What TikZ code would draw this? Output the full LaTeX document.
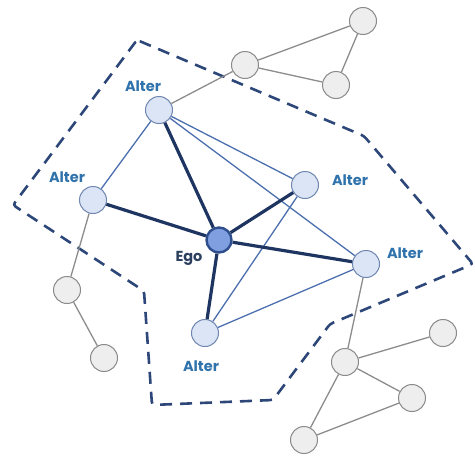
\documentclass[tikz,border=0pt]{standalone}
\usepackage{fontspec}
\setmainfont{Poppins}
\begin{document}
\begin{tikzpicture}[x=1pt,y=-1pt,
  alter/.style={circle,draw=alterline,fill=alterfill,line width=1pt,minimum size=27pt,inner sep=0pt},
  egonode/.style={circle,draw=egoline,fill=egofill,line width=2.4pt,minimum size=25pt,inner sep=0pt},
  other/.style={circle,draw=otherline,fill=otherfill,line width=1pt,minimum size=27pt,inner sep=0pt},
  strong/.style={draw=strongtie,line width=3.2pt},
  weak/.style={draw=weaktie,line width=1.3pt},
  outer/.style={draw=outertie,line width=1.3pt},
  lbl/.style={text=labelblue,font=\bfseries\fontsize{14.5}{14.5}\selectfont,inner sep=0pt},
  boundary/.style={draw=boundcol,line width=2.6pt,dash pattern=on 12pt off 8pt,rounded corners=3pt}
]
\definecolor{alterfill}{HTML}{DCE5F5}
\definecolor{alterline}{HTML}{6F86B0}
\definecolor{egofill}{HTML}{7F9FE0}
\definecolor{egoline}{HTML}{2E4E8C}
\definecolor{otherfill}{HTML}{EEEEEE}
\definecolor{otherline}{HTML}{8A8A8A}
\definecolor{strongtie}{HTML}{1F3561}
\definecolor{weaktie}{HTML}{4B6FAE}
\definecolor{outertie}{HTML}{8C8C8C}
\definecolor{labelblue}{HTML}{2F72AC}
\definecolor{egotext}{HTML}{2B3F5E}
\definecolor{boundcol}{HTML}{2C4778}

\useasboundingbox (0,0) rectangle (475,456);

% personal network boundary
\draw[boundary] (137,40) -- (364,136) -- (473,264) -- (330,324) -- (273,400)
  -- (152,405) -- (144,291) -- (13,205) -- cycle;

% outer contacts
\node[other] (o1) at (245,65) {};
\node[other] (o2) at (363,21) {};
\node[other] (o3) at (336,85) {};
\node[other] (o4) at (67,290) {};
\node[other] (o5) at (104,358) {};
\node[other] (o6) at (345,362) {};
\node[other] (o7) at (443,333) {};
\node[other] (o8) at (412,398) {};
\node[other] (o9) at (304,440) {};

% alters and ego
\node[alter] (a1) at (159,110) {};
\node[alter] (a2) at (93,200) {};
\node[alter] (a3) at (305,185) {};
\node[alter] (a4) at (366,264) {};
\node[alter] (a5) at (205,333) {};
\node[egonode] (ego) at (219,240) {};

% ties, drawn between node borders
\path[outer] (a1) -- (o1) (o1) -- (o2) (o1) -- (o3) (o2) -- (o3)
  (a2) -- (o4) (o4) -- (o5)
  (a4) -- (o6) (o6) -- (o7) (o6) -- (o8) (o6) -- (o9) (o8) -- (o9);
\path[weak] (a1) -- (a2) (a1) -- (a3) (a1) -- (a4) (a3) -- (a5) (a4) -- (a5);
\path[strong] (ego) -- (a1) (ego) -- (a2) (ego) -- (a3) (ego) -- (a4) (ego) -- (a5);

% labels
\node[lbl] (l1) at (143,86) {Alter};
\node[lbl] (l2) at (67,177) {Alter};
\node[lbl] (l3) at (350,180) {Alter};
\node[lbl] (l4) at (405,253) {Alter};
\node[lbl] (l5) at (201,366) {Alter};
\node[lbl,text=egotext] (le) at (189,258) {Ego};
\end{tikzpicture}
\end{document}
